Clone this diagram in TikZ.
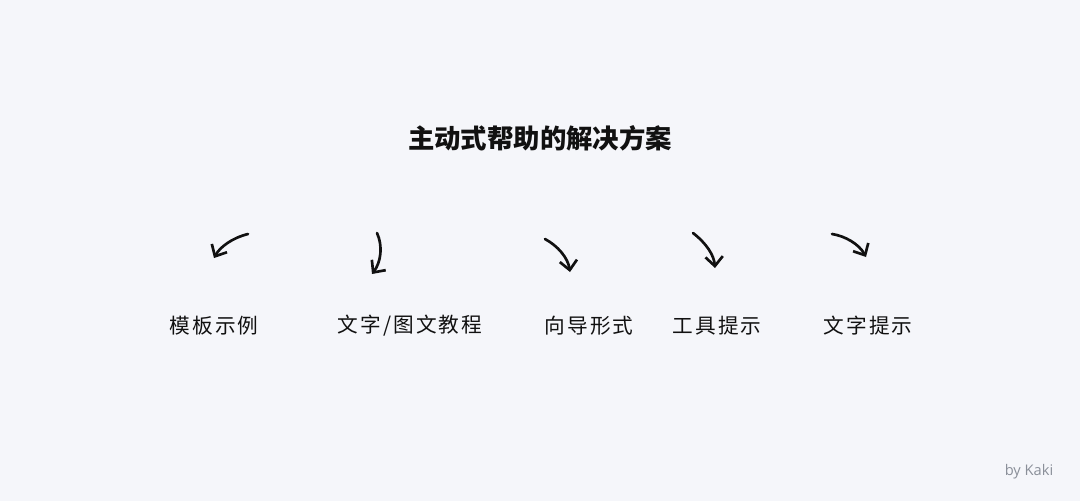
\documentclass[tikz,border=0pt]{standalone}
\usepackage{fontspec}
\setmainfont{Open Sans}
\newfontfamily\cjk{Noto Sans CJK SC}
\newfontfamily\cjkhand[LetterSpace=10]{Noto Sans CJK SC}
\usetikzlibrary{arrows.meta}
\definecolor{bg}{HTML}{F5F6FA}
\definecolor{ink}{HTML}{111111}
\definecolor{sig}{HTML}{8A8F99}
\tikzset{
  title/.style={font=\cjk\bfseries\fontsize{19.8pt}{22pt}\selectfont, text=ink, inner sep=0pt},
  lbl/.style={font=\cjkhand\fontsize{15.5pt}{18pt}\selectfont, text=ink, inner sep=0pt},
  sketch/.style={draw=ink, line width=2pt, line cap=round, line join=round, -{Straight Barb[length=7pt,width=13pt,line width=2pt]}},
}
\begin{document}
\begin{tikzpicture}[x=0.75pt,y=-0.75pt]
\fill[bg] (0,0) rectangle (1080,501);
\useasboundingbox (0,0) rectangle (1080,501);
\node[title] (t) at (540,138) {主动式帮助的解决方案};
\node[lbl] (l1) at (214,326) {模板示例};
\node[lbl] (l2) at (410,326) {文字/图文教程};
\node[lbl] (l3) at (589,326) {向导形式};
\node[lbl] (l4) at (717,326) {工具提示};
\node[lbl] (l5) at (868,326) {文字提示};
\coordinate (a1s) at (248,234); \coordinate (a1e) at (214,258);
\coordinate (a2s) at (377,233); \coordinate (a2e) at (372,274);
\coordinate (a3s) at (545,239); \coordinate (a3e) at (570,272);
\coordinate (a4s) at (693,233); \coordinate (a4e) at (715,268);
\coordinate (a5s) at (832,234); \coordinate (a5e) at (866,257);
\draw[sketch] (a1s) .. controls (232,238) and (220,247) .. (a1e);
\draw[sketch] (a2s) .. controls (383,246) and (381,262) .. (a2e);
\draw[sketch] (a3s) .. controls (558,246) and (568,258) .. (a3e);
\draw[sketch] (a4s) .. controls (706,243) and (714,255) .. (a4e);
\draw[sketch] (a5s) .. controls (845,236) and (859,244) .. (a5e);
\node[font=\fontsize{11pt}{12pt}\selectfont, text=sig, inner sep=0pt] (sg) at (1029,472) {by Kaki};
\end{tikzpicture}
\end{document}
